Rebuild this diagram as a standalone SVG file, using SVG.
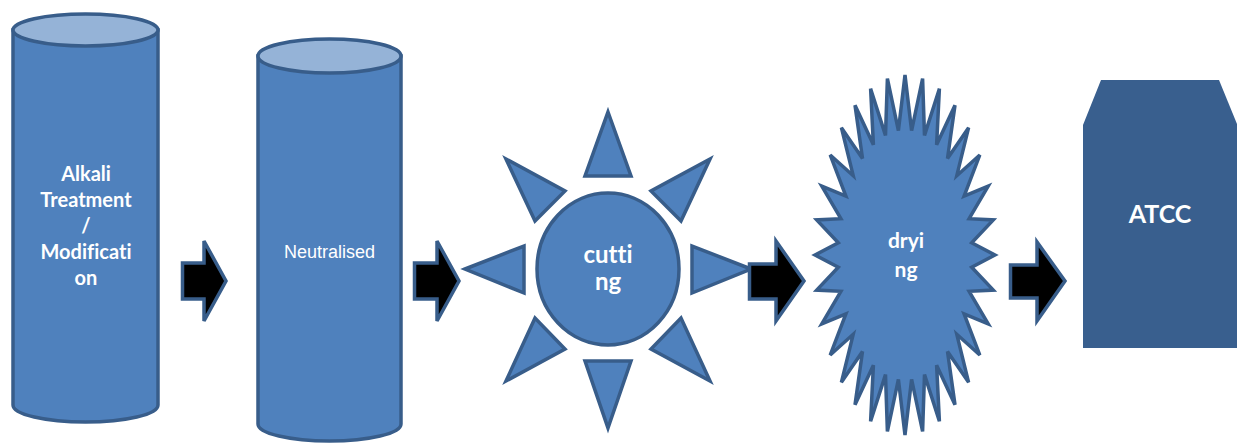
<svg xmlns="http://www.w3.org/2000/svg" width="1241" height="445" viewBox="0 0 1241 445">
  <style>
    .body { fill: #4f81bd; stroke: #385d8a; stroke-width: 3.5; stroke-linejoin: miter; }
    .lid { fill: #95b3d7; stroke: #385d8a; stroke-width: 3.5; }
    .block { fill: #000000; stroke: #385d8a; stroke-width: 3.5; stroke-linejoin: miter; }
    .dark { fill: #395f8e; }
    .bold { font-family: Lato, "Open Sans", "Liberation Sans", sans-serif; font-weight: 700; fill: #ffffff; text-anchor: middle; font-variant-ligatures: none; }
    .plain { font-family: "Liberation Sans", Arial, sans-serif; font-weight: 400; fill: #ffffff; text-anchor: middle; }
  </style>
  <rect width="1241" height="445" fill="#ffffff"/>

  <!-- tall cylinder: alkali treatment -->
  <g id="node-alkali">
    <path class="body" d="M13,30 L13,405 A72.5,17 0 0 0 158,405 L158,30 Z"/>
    <ellipse class="lid" cx="85.5" cy="30" rx="72.5" ry="16"/>
    <g class="bold" font-size="20">
      <text x="86" y="181">Alkali</text>
      <text x="86" y="207">Treatment</text>
      <text x="86" y="233">/</text>
      <text x="86" y="259">Modificati</text>
      <text x="86" y="285">on</text>
    </g>
  </g>

  <!-- second cylinder: neutralised -->
  <g id="node-neutralised">
    <path class="body" d="M258,56 L258,424 A71.5,17 0 0 0 401,424 L401,56 Z"/>
    <ellipse class="lid" cx="329.5" cy="56" rx="71.5" ry="17"/>
    <text class="plain" x="329.5" y="258" font-size="18">Neutralised</text>
  </g>

  <!-- sun: cutting -->
  <g id="node-cutting">
    <g class="body">
      <polygon points="608,112 631,176 585,176"/>
      <polygon points="608,428 631,361 585,361"/>
      <polygon points="465,269 524,246 524,293"/>
      <polygon points="751,269 692,246 692,293"/>
      <polygon points="506,159 565,191 535,221"/>
      <polygon points="710,159 651,191 681,221"/>
      <polygon points="506,381 535,318 565,349"/>
      <polygon points="710,381 681,318 651,349"/>
      <ellipse cx="608" cy="269" rx="71" ry="76"/>
    </g>
    <g class="bold" font-size="24">
      <text x="608" y="263">cutti</text>
      <text x="608" y="290">ng</text>
    </g>
  </g>

  <!-- 32-point star: drying -->
  <g id="node-drying">
    <polygon class="body" stroke-width="4" points="995,255 971.7,267.3 993.3,290.1 969.1,291.3 988.2,323.9 964.1,313.9 979.8,355 956.8,334.3 968.6,382.3 947.5,351.6 955,404.7 936.6,365.2 939.4,421.3 924.5,374.6 922.6,431.5 911.6,379.4 905,435 898.4,379.4 887.4,431.5 885.5,374.6 870.6,421.3 873.4,365.2 855,404.7 862.5,351.6 841.4,382.3 853.2,334.3 830.2,355 845.9,313.9 821.8,323.9 840.9,291.3 816.7,290.1 838.3,267.3 815,255 838.3,242.7 816.7,219.9 840.9,218.7 821.8,186.1 845.9,196.1 830.2,155 853.2,175.7 841.4,127.7 862.5,158.4 855,105.3 873.4,144.8 870.6,88.7 885.5,135.4 887.4,78.5 898.4,130.6 905,75 911.6,130.6 922.6,78.5 924.5,135.4 939.4,88.7 936.6,144.8 955,105.3 947.5,158.4 968.6,127.7 956.8,175.7 979.8,155 964.1,196.1 988.2,186.1 969.1,218.7 993.3,219.9 971.7,242.7"/>
    <g class="bold" font-size="21">
      <text x="906" y="248">dryi</text>
      <text x="906" y="277">ng</text>
    </g>
  </g>

  <!-- snipped-corner box: ATCC -->
  <g id="node-atcc">
    <polygon class="dark" points="1101,80 1219,80 1237,124 1237,348 1083,348 1083,125"/>
    <text class="bold" x="1160" y="223" font-size="25">ATCC</text>
  </g>

  <!-- block arrows between steps -->
  <g id="connectors">
    <path class="block" d="M182.5,263 H204 V241 L226,281 L204,321 V299 H182.5 Z"/>
    <path class="block" d="M414.5,263 H437 V241 L459,281 L437,321 V299 H414.5 Z"/>
    <path class="block" d="M749.5,264 H776 V241 L804,281 L776,321 V299 H749.5 Z"/>
    <path class="block" d="M1010.5,265 H1037 V242 L1065,281 L1037,321 V298 H1010.5 Z"/>
  </g>
</svg>
